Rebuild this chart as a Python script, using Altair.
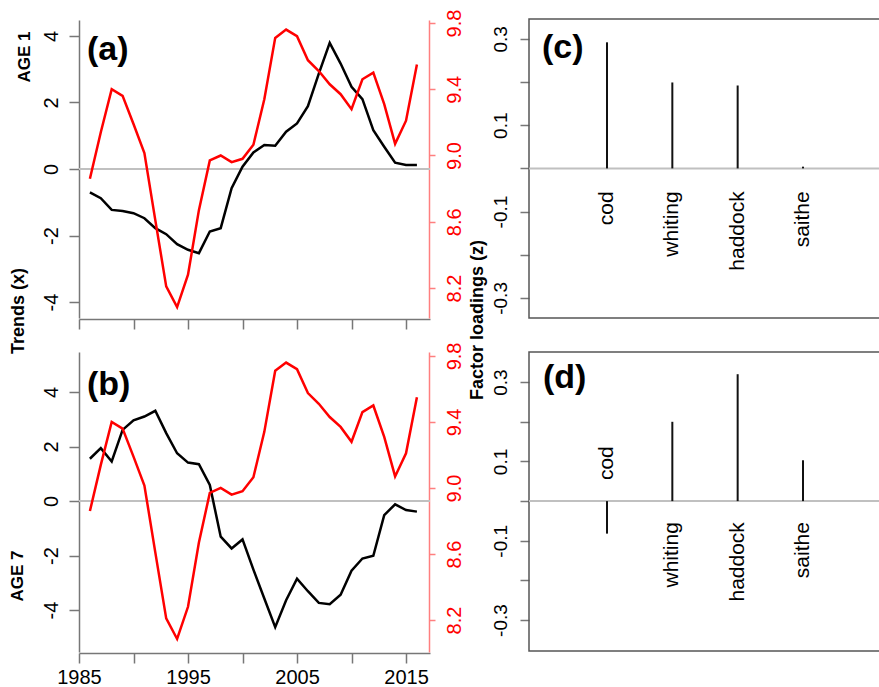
import altair as alt
import pandas as pd

# ---------------- data ----------------
years = list(range(1986, 2017))
trend_age1 = [-0.70, -0.88, -1.23, -1.26, -1.33, -1.48, -1.78, -1.96, -2.26, -2.43,
              -2.53, -1.88, -1.78, -0.58, 0.07, 0.50, 0.72, 0.70, 1.12, 1.37,
              1.89, 2.87, 3.79, 3.17, 2.47, 2.10, 1.17, 0.67, 0.19, 0.12, 0.12]
trend_age7 = [1.55, 1.94, 1.45, 2.61, 2.96, 3.10, 3.31, 2.49, 1.75, 1.41,
              1.35, 0.59, -1.31, -1.74, -1.41, -2.52, -3.58, -4.63, -3.64, -2.85,
              -3.31, -3.74, -3.79, -3.44, -2.56, -2.11, -2.01, -0.52, -0.12, -0.33, -0.39]
temperature = [8.86, 9.14, 9.40, 9.36, 9.19, 9.015, 8.61, 8.21, 8.085, 8.28,
               8.67, 8.97, 9.00, 8.96, 8.98, 9.065, 9.34, 9.71, 9.76, 9.72,
               9.575, 9.51, 9.43, 9.37, 9.28, 9.46, 9.50, 9.31, 9.07, 9.21, 9.55]
species = ["cod", "whiting", "haddock", "saithe"]
loading_age1 = [0.292, 0.199, 0.192, 0.004]
loading_age7 = [-0.082, 0.200, 0.320, 0.103]

trend_ticks = [-4, -2, 0, 2, 4]
temp_ticks = [8.2, 8.6, 9.0, 9.4, 9.8]
year_ticks = [1985, 1990, 1995, 2000, 2005, 2010, 2015]
loading_ticks = [-0.3, -0.2, -0.1, 0.0, 0.1, 0.2, 0.3]

# ---------------- style / layout ----------------
W, H = 879, 687
FONT = "Liberation Sans"
GREY = "#777777"
RED = "#ff0000"
PINK = "#ff7f7f"
ZERO = "#c0c0c0"
MINUS = "replace(datum.label, '\u2212', '-')"

ts = pd.DataFrame({"year": years, "age1": trend_age1, "age7": trend_age7, "temp": temperature})
one = pd.DataFrame({"k": [0]})

YEAR_DOM = [1985, 2017.2]
X_DOM = [-0.194, 5.485]


def sc(domain, rng):
    return alt.Scale(domain=domain, range=rng, nice=False, zero=False)


def year_axis(ypix, labels):
    kw = dict(orient="bottom", offset=ypix - H, values=year_ticks, tickSize=10,
              tickColor=GREY, tickWidth=1.5, domainColor=GREY, domainWidth=1.5,
              grid=False, title=None)
    if labels:
        kw.update(labelExpr="datum.value % 10 == 5 ? '' + datum.value : ''",
                  labelFontSize=20, labelFont=FONT, labelColor="black", labelPadding=4,
                  labelAngle=0, labelAlign="center", labelBaseline="top", labelOverlap=False)
    else:
        kw.update(labels=False)
    return alt.Axis(**kw)


def trend_panel(field, top, bottom, ydom, tdom, labels):
    xs = lambda: sc(YEAR_DOM, [79, 430])
    yaxis = alt.Axis(orient="left", offset=-79, values=trend_ticks, tickSize=10,
                     tickColor=GREY, tickWidth=1.5, domainColor=GREY, domainWidth=1.5,
                     labelAngle=270, labelAlign="center", labelBaseline="bottom",
                     labelPadding=8, labelFontSize=20, labelFont=FONT, labelColor="black",
                     labelExpr=MINUS, labelOverlap=False, grid=False, title=None)
    taxis = alt.Axis(orient="right", offset=429 - W, values=temp_ticks, format=".1f",
                     tickSize=6, tickColor=PINK, tickWidth=1.5, domainColor=PINK,
                     domainWidth=1.5, labelColor=RED, labelAngle=270, labelAlign="center",
                     labelBaseline="top", labelPadding=9, labelFontSize=20, labelFont=FONT,
                     labelOverlap=False, grid=False, title=None)
    zero = alt.Chart(one).mark_rule(color=ZERO, strokeWidth=2).encode(
        x=alt.XDatum(YEAR_DOM[0], type="quantitative", scale=xs(), axis=None),
        x2=alt.datum(YEAR_DOM[1]),
        y=alt.YDatum(0, type="quantitative", scale=sc(ydom, [bottom, top]), axis=None))
    line = alt.Chart(ts).mark_line(color="black", strokeWidth=2.5).encode(
        x=alt.X("year:Q", scale=xs(), axis=year_axis(bottom + 1, labels)),
        y=alt.Y(f"{field}:Q", scale=sc(ydom, [bottom, top]), axis=yaxis))
    red = alt.Chart(ts).mark_line(color=RED, strokeWidth=2.5).encode(
        x=alt.X("year:Q", scale=xs(), axis=None),
        y=alt.Y("temp:Q", scale=sc(tdom, [bottom, top]), axis=taxis))
    return [zero, line, red]


def loading_panel(values, top, bottom, ydom):
    df = pd.DataFrame({"idx": [1, 2, 3, 4], "species": species, "v": values})
    df["lab"] = [-0.053 if v >= 0 else 0.053 for v in values]
    xs = lambda: sc(X_DOM, [529, 900])
    ys = lambda: sc(ydom, [bottom, top])
    yaxis = alt.Axis(orient="left", offset=-529, values=loading_ticks, domain=False,
                     tickSize=9, tickColor=GREY, tickWidth=1.5,
                     labelExpr="abs(round(datum.value*10)) % 2 == 1 ? replace(format(datum.value, '.1f'), '\u2212', '-') : ''",
                     labelAngle=270, labelAlign="center", labelBaseline="bottom",
                     labelPadding=10, labelFontSize=19, labelFont=FONT, labelColor="black",
                     labelOverlap=False, grid=False, title=None)
    box = alt.Chart(one).mark_rect(fillOpacity=0, stroke="#555555", strokeWidth=1.5).encode(
        x=alt.XDatum(X_DOM[0], type="quantitative", scale=xs(), axis=None),
        x2=alt.datum(X_DOM[1]),
        y=alt.YDatum(ydom[0], type="quantitative", scale=ys(), axis=None),
        y2=alt.datum(ydom[1]))
    zero = alt.Chart(one).mark_rule(color=ZERO, strokeWidth=2).encode(
        x=alt.XDatum(X_DOM[0], type="quantitative", scale=xs(), axis=None),
        x2=alt.datum(X_DOM[1]),
        y=alt.YDatum(0, type="quantitative", scale=ys(), axis=None))
    sticks = alt.Chart(df).mark_rule(color="#111111", strokeWidth=2).encode(
        x=alt.X("idx:Q", scale=xs(), axis=None),
        y=alt.Y("v:Q", scale=ys(), axis=yaxis),
        y2=alt.datum(0))
    pos = alt.Chart(df).transform_filter("datum.v >= 0").mark_text(
        angle=270, align="right", baseline="middle", fontSize=21, font=FONT, color="black"
    ).encode(x=alt.X("idx:Q", scale=xs(), axis=None),
             y=alt.Y("lab:Q", scale=ys(), axis=None), text="species:N")
    neg = alt.Chart(df).transform_filter("datum.v < 0").mark_text(
        angle=270, align="left", baseline="middle", fontSize=21, font=FONT, color="black"
    ).encode(x=alt.X("idx:Q", scale=xs(), axis=None),
             y=alt.Y("lab:Q", scale=ys(), axis=None), text="species:N")
    return [box, zero, sticks, pos, neg]


def label(text, x, y, size, angle=0, align="center", baseline="middle"):
    kw = dict(fontSize=size, fontWeight="bold", font=FONT, color="black",
              align=align, baseline=baseline)
    if angle:
        kw["angle"] = angle
    return alt.Chart(pd.DataFrame({"t": [text]})).mark_text(**kw).encode(
        text="t:N", x=alt.value(x), y=alt.value(y))


layers = []
layers += trend_panel("age1", 20, 318, [-4.48, 4.48], [8.019, 9.818], False)
layers += trend_panel("age7", 352, 652, [-5.541, 5.468], [8.006, 9.824], True)
layers += loading_panel(loading_age1, 19, 318, [-0.3465, 0.346])
layers += loading_panel(loading_age7, 352, 651, [-0.378, 0.376])
layers += [
    label("(a)", 87, 60, 34, align="left", baseline="alphabetic"),
    label("(b)", 87, 395, 34, align="left", baseline="alphabetic"),
    label("(c)", 542, 58, 34, align="left", baseline="alphabetic"),
    label("(d)", 543, 388, 34, align="left", baseline="alphabetic"),
    label("AGE 1", 25, 57, 17, angle=270),
    label("Trends (x)", 19, 311, 18, angle=270),
    label("AGE 7", 18, 576, 17, angle=270),
    label("Factor loadings (z)", 478, 320, 18, angle=270),
]

chart = alt.layer(*layers).resolve_scale(
    x="independent", y="independent"
).properties(
    width=W, height=H, padding=0, autosize=alt.AutoSizeParams(type="none"),
    background="white"
).configure_view(stroke=None).configure_axis(grid=False)

chart.save("out.html", embed_options={"renderer": "svg", "actions": False})
